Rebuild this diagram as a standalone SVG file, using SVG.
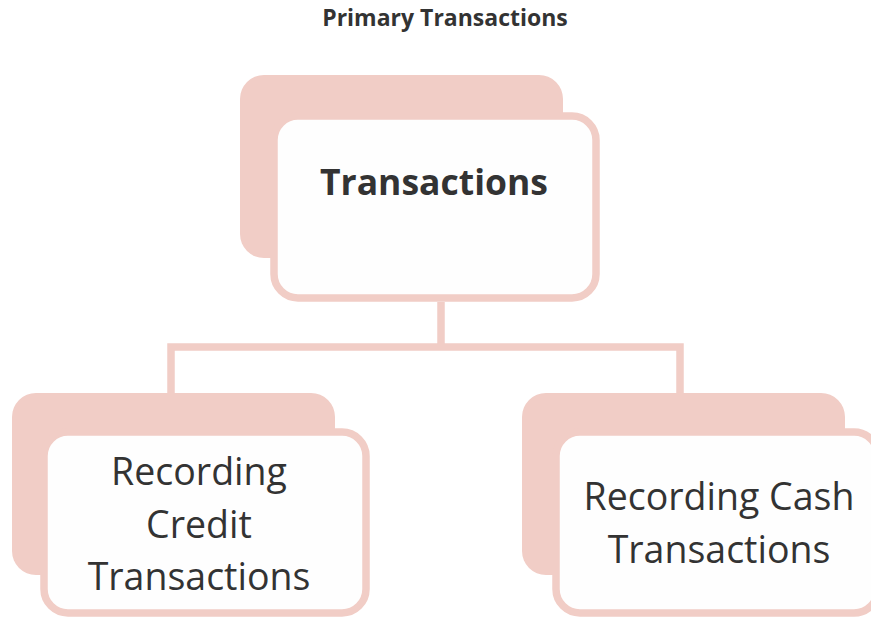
<svg xmlns="http://www.w3.org/2000/svg" width="871" height="619" viewBox="0 0 871 619">
  <style>
    .back { fill: #f1cdc6; }
    .front { fill: #fefefe; stroke: #f1cdc6; stroke-width: 7.5; }
    .link { fill: none; stroke: #f1cdc6; stroke-width: 7.5; }
    .t { font-family: "Open Sans", "Noto Sans", sans-serif; fill: #333333; text-anchor: middle; }
    .title { font-size: 23px; font-weight: bold; }
    .big { font-size: 35.5px; font-weight: bold; }
    .lbl { font-size: 37.5px; }
  </style>
  <rect width="871" height="619" fill="#ffffff"/>
  <text class="t title" x="445" y="26">Primary Transactions</text>

  <g id="connectors">
    <path class="link" d="M441 302 V347 M171 347 H680 M171 343.25 V395 M680 343.25 V395"/>
  </g>

  <g id="node-transactions">
    <rect class="back" x="240" y="75" width="323" height="183" rx="24"/>
    <rect class="front" x="274" y="116" width="322" height="182" rx="24"/>
    <text class="t big" x="434" y="195">Transactions</text>
  </g>

  <g id="node-credit">
    <rect class="back" x="12" y="393" width="323" height="182" rx="24"/>
    <rect class="front" x="44" y="432" width="322" height="181" rx="24"/>
    <text class="t lbl" x="199" y="485">Recording</text>
    <text class="t lbl" x="199" y="538">Credit</text>
    <text class="t lbl" x="199" y="590">Transactions</text>
  </g>

  <g id="node-cash">
    <rect class="back" x="522" y="393" width="323" height="182" rx="24"/>
    <rect class="front" x="556" y="432" width="322" height="181" rx="24"/>
    <text class="t lbl" x="719" y="510">Recording Cash</text>
    <text class="t lbl" x="719" y="563">Transactions</text>
  </g>
</svg>
